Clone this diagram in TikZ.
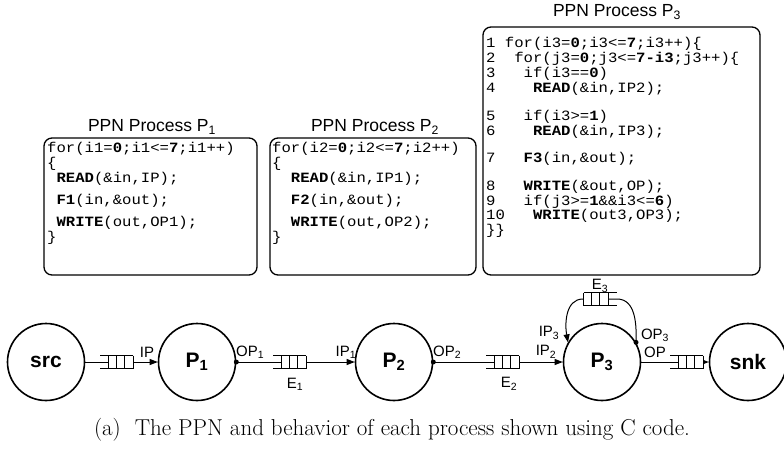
\documentclass[tikz,border=0pt]{standalone}
\usepackage{fontspec}
\usetikzlibrary{arrows.meta}
\newfontfamily\arialf{Liberation Sans}
\newfontfamily\courf[FakeStretch=1.1]{Liberation Mono}
\tikzset{
 box/.style={draw, line width=1.3pt, rounded corners=8pt},
 ttl/.style={font=\arialf\fontsize{17.5}{18}\selectfont, inner sep=0pt},
 code/.style={font=\courf\fontsize{14.2}{15}\selectfont, anchor=west, inner sep=0pt, text height=9pt, text depth=2pt},
 proc/.style={circle, draw, line width=1.6pt, minimum size=77pt, inner sep=0pt, font=\arialf\bfseries\fontsize{21}{21}\selectfont},
 lbl/.style={font=\arialf\fontsize{15}{15}\selectfont, inner sep=0pt},
 conn/.style={line width=1pt, -{Triangle[length=8pt,width=6pt]}},
 wire/.style={line width=1pt},
 pdot/.style={circle, fill, inner sep=0pt, minimum size=5pt},
 fifo/.pic={
   \fill[white] (-8,-6.5) rectangle (16.5,6.5);
   \draw[line width=1pt] (-16.5,-6.5) -- (16.5,-6.5) (-16.5,6.5) -- (16.5,6.5)
     (-8,-6.5) -- (-8,6.5) (0.2,-6.5) -- (0.2,6.5) (8.4,-6.5) -- (8.4,6.5) (16.5,-6.5) -- (16.5,6.5);
 }
}
\begin{document}
\begin{tikzpicture}[x=1pt,y=-1pt]
\useasboundingbox (0,0) rectangle (784,459);
% ---------- code boxes ----------
\node[ttl] (t1) at (152,127) {PPN Process P\textsubscript{1}};
\draw[box] (44,138) rectangle (257,275);
\node[code] (p1a) at (47,149) {for(i1=\textbf{0};i1<=\textbf{7};i1++)};
\node[code] (p1b) at (47,163.5) {\{};
\node[code] (p1c) at (47,179) {\ \textbf{READ}(\&in,IP);};
\node[code] (p1d) at (47,201) {\ \textbf{F1}(in,\&out);};
\node[code] (p1e) at (47,223) {\ \textbf{WRITE}(out,OP1);};
\node[code] (p1f) at (47,238) {\}};

\node[ttl] (t2) at (375,127) {PPN Process P\textsubscript{2}};
\draw[box] (270,138) rectangle (476,275);
\node[code] (p2a) at (272,149) {for(i2=\textbf{0};i2<=\textbf{7};i2++)};
\node[code] (p2b) at (272,163.5) {\{};
\node[code] (p2c) at (272,179) {\ \ \textbf{READ}(\&in,IP1);};
\node[code] (p2d) at (272,201) {\ \ \textbf{F2}(in,\&out);};
\node[code] (p2e) at (272,223) {\ \ \textbf{WRITE}(out,OP2);};
\node[code] (p2f) at (272,238) {\}};

\node[ttl] (t3) at (617,12) {PPN Process P\textsubscript{3}};
\draw[box] (483,27) rectangle (760,275);
\node[code] (p3a) at (486,44) {1 for(i3=\textbf{0};i3<=\textbf{7};i3++)\{};
\node[code] (p3b) at (486,59) {2\ \ for(j3=\textbf{0};j3<=\textbf{7-i3};j3++)\{};
\node[code] (p3c) at (486,74) {3\ \ \ if(i3==\textbf{0})};
\node[code] (p3d) at (486,89) {4\ \ \ \ \textbf{READ}(\&in,IP2);};
\node[code] (p3e) at (486,117) {5\ \ \ if(i3>=\textbf{1})};
\node[code] (p3f) at (486,132) {6\ \ \ \ \textbf{READ}(\&in,IP3);};
\node[code] (p3g) at (486,159) {7\ \ \ \textbf{F3}(in,\&out);};
\node[code] (p3h) at (486,187) {8\ \ \ \textbf{WRITE}(\&out,OP);};
\node[code] (p3i) at (486,201.5) {9\ \ \ if(j3>=\textbf{1}\&\&i3<=\textbf{6})};
\node[code] (p3j) at (486,216) {10\ \ \ \textbf{WRITE}(out3,OP3);};
\node[code] (p3k) at (486,231) {\}\}};

% ---------- graph ----------
\node[proc] (src) at (46,362) {src};
\node[proc] (P1) at (197,362) {P\textsubscript{1}};
\node[proc] (P2) at (394,362) {P\textsubscript{2}};
\node[proc] (P3) at (602,362) {P\textsubscript{3}};
\node[proc] (snk) at (748,362) {snk};

\node[pdot] (d1) at (P1.east) {};
\node[pdot] (d2) at (P2.east) {};
\node[pdot] (d3) at (P3.30) {};
\coordinate (e3r) at (617,299);
\coordinate (e3l) at (583,299);

\draw[conn] (src) -- (P1);
\draw[conn] (d1.center) -- (P2);
\draw[conn] (d2.center) -- (P3);
\draw[conn] (P3) -- (snk);
\draw[wire] (d3.center) to[out=88,in=0] (e3r) -- (e3l);
\draw[conn] (e3l) to[out=180,in=100] (P3.150);

\pic at (116.5,362) {fifo};
\pic at (289.5,362) {fifo};
\pic at (502.5,362) {fifo};
\pic at (686.5,362) {fifo};
\pic[xscale=-1] at (600,299) {fifo};

\node[lbl] (lip) at (147,352) {IP};
\node[lbl,anchor=west] (lop1) at (236,352) {OP\textsubscript{1}};
\node[lbl] (le1) at (295,384) {E\textsubscript{1}};
\node[lbl] (lip1) at (346,352) {IP\textsubscript{1}};
\node[lbl,anchor=west] (lop2) at (433,352) {OP\textsubscript{2}};
\node[lbl] (le2) at (509,384) {E\textsubscript{2}};
\node[lbl] (lip2) at (546,352) {IP\textsubscript{2}};
\node[lbl] (lip3) at (549,333) {IP\textsubscript{3}};
\node[lbl] (lop3) at (655,335) {OP\textsubscript{3}};
\node[lbl] (lop) at (655,352) {OP};
\node[lbl] (le3) at (600,286) {E\textsubscript{3}};

% ---------- caption ----------
\node[font=\fontsize{23}{26}\selectfont\addfontfeatures{LetterSpace=2.5}, inner sep=0pt] (cap) at (392,430) {(a)\ \ The PPN and behavior of each process shown using C code.};
\end{tikzpicture}
\end{document}
